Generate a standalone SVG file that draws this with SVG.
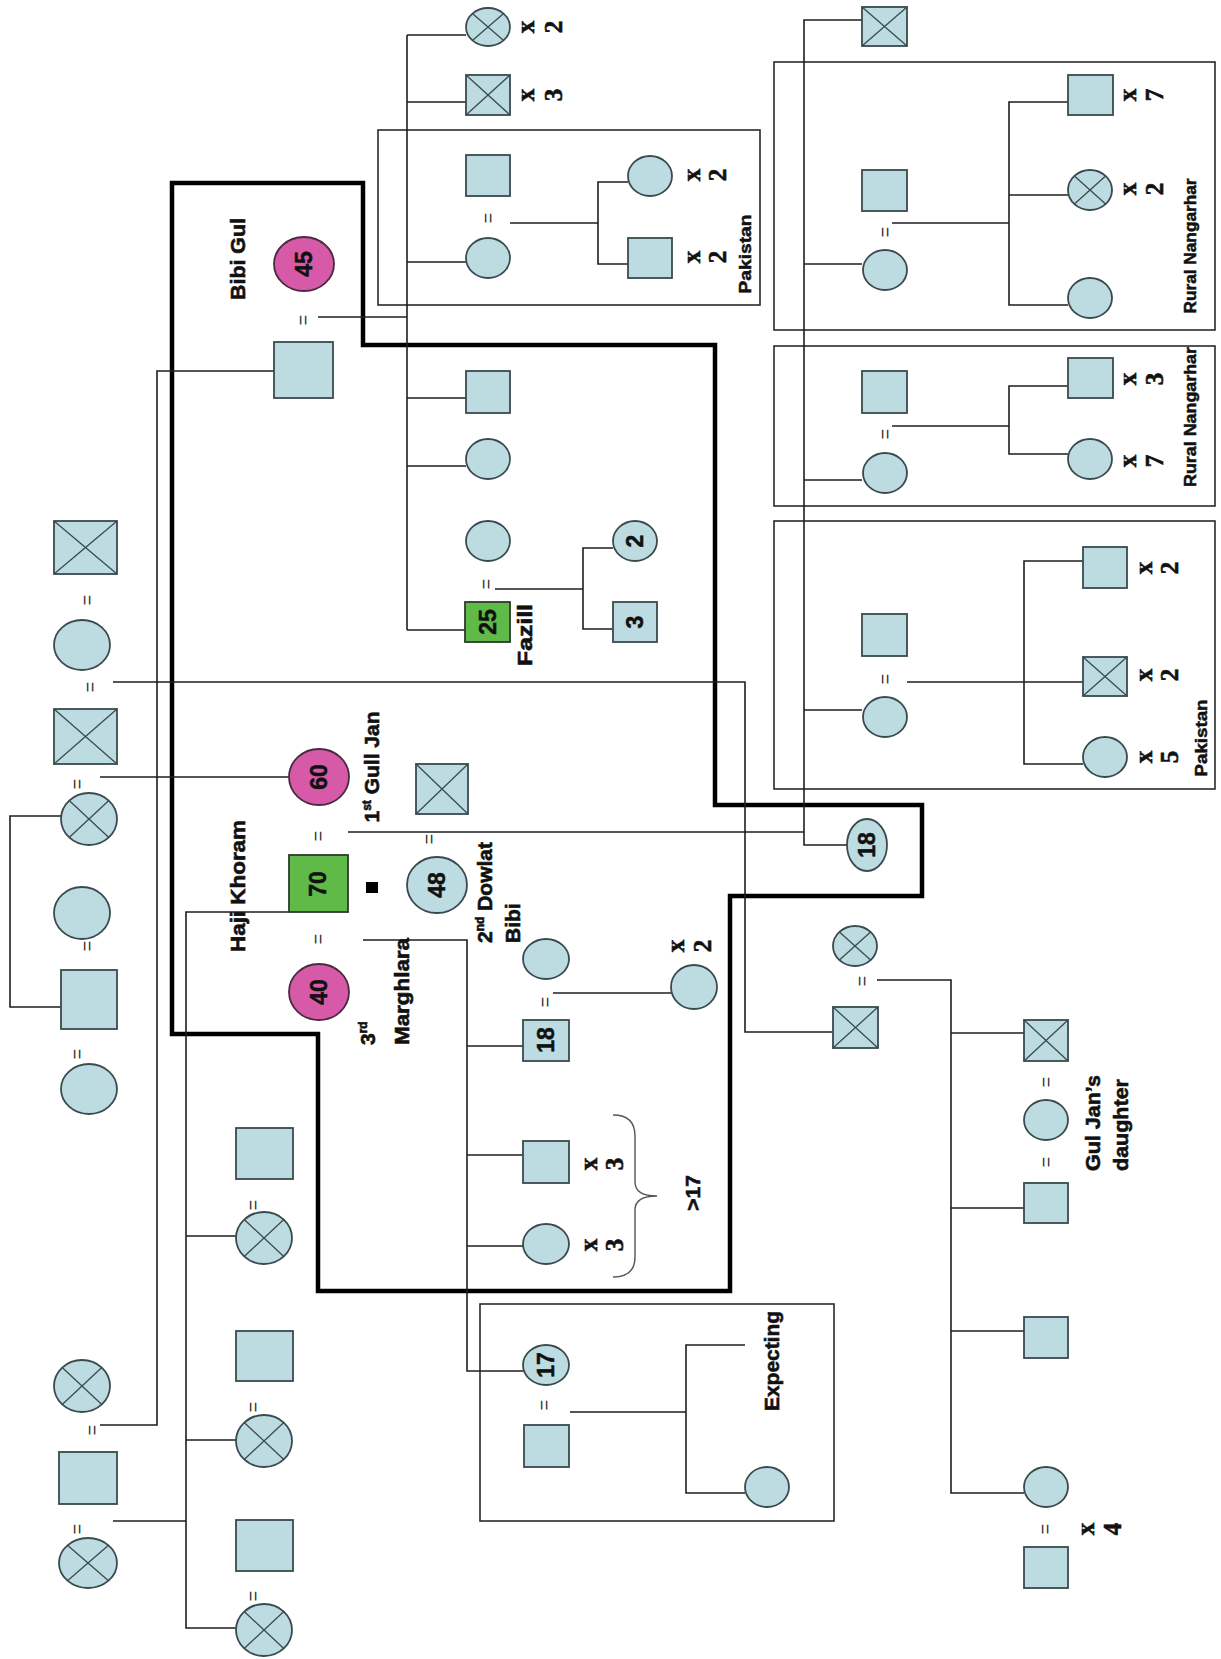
<svg xmlns="http://www.w3.org/2000/svg" width="1221" height="1659" viewBox="0 0 1221 1659">
<style>
.ln{stroke:#1e1e1e;stroke-width:1.6;fill:none}
.thick{stroke:#000;stroke-width:4.5;fill:none;stroke-linejoin:miter}
.box{stroke:#2a2a2a;stroke-width:1.6;fill:none}
.f{fill:#bddce2;stroke:#3a4a4e;stroke-width:1.8}
.m{fill:#d65aa8;stroke:#4a2a40;stroke-width:1.8}
.g{fill:#5fba47;stroke:#2e3a2e;stroke-width:1.8}
.x{stroke:#3a4a4e;stroke-width:1.3}
.brace{stroke:#555;stroke-width:1.4;fill:none}
text{font-family:"Liberation Sans",Arial,sans-serif;fill:#111}
.lbl{font-weight:bold;font-size:21px;stroke:#111;stroke-width:0.6}
.sm{font-weight:bold;font-size:17px;stroke:#111;stroke-width:0.5}
.num{font-weight:bold;font-size:23px;text-anchor:middle;stroke:#111;stroke-width:0.5}
.eq{font-size:18px;text-anchor:middle;fill:#333}
.xn{font-family:"Liberation Serif","Times New Roman",serif;font-weight:bold;font-size:25px;text-anchor:middle;stroke:#111;stroke-width:0.6}
.mid{text-anchor:middle}
</style>

<g id="connectors">
  <polygon class="thick" points="172,183 363,183 363,345 715,345 715,805 922,805 922,896 730,896 730,1291 318,1291 318,1034 172,1034"/>
  <rect class="box" x="378" y="130" width="382" height="175"/>
  <rect class="box" x="774" y="62" width="441" height="268"/>
  <rect class="box" x="774" y="346" width="441" height="160"/>
  <rect class="box" x="774" y="521" width="441" height="268"/>
  <rect class="box" x="480" y="1304" width="354" height="217"/>
  <polyline class="ln" points="318,317 407,317"/>
  <polyline class="ln" points="407,35 407,630"/>
  <polyline class="ln" points="407,35 466,35"/>
  <polyline class="ln" points="407,102 466,102"/>
  <polyline class="ln" points="407,262 466,262"/>
  <polyline class="ln" points="407,398 466,398"/>
  <polyline class="ln" points="407,466 466,466"/>
  <polyline class="ln" points="407,630 465,630"/>
  <polyline class="ln" points="274,371 157,371 157,1425 100,1425"/>
  <polyline class="ln" points="510,223 598,223"/>
  <polyline class="ln" points="628,182 598,182 598,264 628,264"/>
  <polyline class="ln" points="495,589 583,589"/>
  <polyline class="ln" points="613,548 583,548 583,629 613,629"/>
  <polyline class="ln" points="862,20 804,20 804,845 847,845"/>
  <polyline class="ln" points="804,264 862,264"/>
  <polyline class="ln" points="804,480 862,480"/>
  <polyline class="ln" points="804,710 862,710"/>
  <polyline class="ln" points="892,223 1009,223"/>
  <polyline class="ln" points="1068,102 1009,102 1009,305 1068,305"/>
  <polyline class="ln" points="1009,195 1068,195"/>
  <polyline class="ln" points="892,426 1009,426"/>
  <polyline class="ln" points="1068,386 1009,386 1009,454 1068,454"/>
  <polyline class="ln" points="907,682 1024,682"/>
  <polyline class="ln" points="1083,561 1024,561 1024,764 1083,764"/>
  <polyline class="ln" points="1024,682 1083,682"/>
  <polyline class="ln" points="113,682 745,682 745,1032 833,1032"/>
  <polyline class="ln" points="100,777 289,777"/>
  <polyline class="ln" points="61,816 10,816 10,1007 61,1007"/>
  <polyline class="ln" points="348,832 804,832"/>
  <polyline class="ln" points="289,912 186,912 186,1628 236,1628"/>
  <polyline class="ln" points="186,1236 236,1236"/>
  <polyline class="ln" points="186,1440 236,1440"/>
  <polyline class="ln" points="113,1521 186,1521"/>
  <polyline class="ln" points="363,940 467,940 467,1371 524,1371"/>
  <polyline class="ln" points="467,1046 523,1046"/>
  <polyline class="ln" points="467,1155 523,1155"/>
  <polyline class="ln" points="467,1246 523,1246"/>
  <polyline class="ln" points="553,993 671,993"/>
  <polyline class="ln" points="877,980 951,980 951,1493 1024,1493"/>
  <polyline class="ln" points="951,1033 1024,1033"/>
  <polyline class="ln" points="951,1208 1024,1208"/>
  <polyline class="ln" points="951,1331 1024,1331"/>
  <polyline class="ln" points="570,1412 686,1412"/>
  <polyline class="ln" points="745,1345 686,1345 686,1493 745,1493"/>
  <path class="brace" d="M613,1115 Q635,1115 635,1136 L635,1182 Q635,1196 657,1196 Q635,1196 635,1210 L635,1257 Q635,1277 613,1277"/>
</g>

<g id="marriage-signs">
  <text class="eq" transform="translate(303,320) rotate(-90)" dy="6">=</text>
  <text class="eq" transform="translate(488,218) rotate(-90)" dy="6">=</text>
  <text class="eq" transform="translate(486,584) rotate(-90)" dy="6">=</text>
  <text class="eq" transform="translate(885,232) rotate(-90)" dy="6">=</text>
  <text class="eq" transform="translate(885,434) rotate(-90)" dy="6">=</text>
  <text class="eq" transform="translate(885,679) rotate(-90)" dy="6">=</text>
  <text class="eq" transform="translate(87,600) rotate(-90)" dy="6">=</text>
  <text class="eq" transform="translate(90,687) rotate(-90)" dy="6">=</text>
  <text class="eq" transform="translate(77,784) rotate(-90)" dy="6">=</text>
  <text class="eq" transform="translate(87,946) rotate(-90)" dy="6">=</text>
  <text class="eq" transform="translate(77,1054) rotate(-90)" dy="6">=</text>
  <text class="eq" transform="translate(318,836) rotate(-90)" dy="6">=</text>
  <text class="eq" transform="translate(429,839) rotate(-90)" dy="6">=</text>
  <text class="eq" transform="translate(318,939) rotate(-90)" dy="6">=</text>
  <text class="eq" transform="translate(545,1002) rotate(-90)" dy="6">=</text>
  <text class="eq" transform="translate(253,1205) rotate(-90)" dy="6">=</text>
  <text class="eq" transform="translate(253,1407) rotate(-90)" dy="6">=</text>
  <text class="eq" transform="translate(253,1596) rotate(-90)" dy="6">=</text>
  <text class="eq" transform="translate(92,1430) rotate(-90)" dy="6">=</text>
  <text class="eq" transform="translate(77,1529) rotate(-90)" dy="6">=</text>
  <text class="eq" transform="translate(862,981) rotate(-90)" dy="6">=</text>
  <text class="eq" transform="translate(1046,1082) rotate(-90)" dy="6">=</text>
  <text class="eq" transform="translate(1046,1162) rotate(-90)" dy="6">=</text>
  <text class="eq" transform="translate(1045,1529) rotate(-90)" dy="6">=</text>
  <text class="eq" transform="translate(544,1405) rotate(-90)" dy="6">=</text>
</g>

<g id="bibi-gul">
  <ellipse class="m" cx="304" cy="264" rx="30" ry="27"/>
  <text class="num" transform="translate(304,264) rotate(-90)" dy="8">45</text>
  <text class="lbl mid" transform="translate(238,259) rotate(-90)" dy="7" textLength="82" lengthAdjust="spacingAndGlyphs">Bibi Gul</text>
</g>
<g id="bibi-gul-husband"><rect class="f" x="274" y="342" width="59" height="56"/></g>
<g id="bg-child-1">
  <ellipse class="f" cx="488" cy="27" rx="22" ry="19"/>
  <line class="x" x1="472.4" y1="13.6" x2="503.6" y2="40.4"/><line class="x" x1="472.4" y1="40.4" x2="503.6" y2="13.6"/>
  <text class="xn" transform="translate(527,27) rotate(-90)" dy="7">x</text>
  <text class="xn" transform="translate(554,27) rotate(-90)" dy="8">2</text>
</g>
<g id="bg-child-2">
  <rect class="f" x="466" y="75" width="44" height="40"/>
  <line class="x" x1="466" y1="75" x2="510" y2="115"/><line class="x" x1="466" y1="115" x2="510" y2="75"/>
  <text class="xn" transform="translate(527,95) rotate(-90)" dy="7">x</text>
  <text class="xn" transform="translate(554,95) rotate(-90)" dy="8">3</text>
</g>
<g id="pakistan-1">
  <rect class="f" x="466" y="155" width="44" height="41"/>
  <ellipse class="f" cx="488" cy="258" rx="22" ry="20"/>
  <ellipse class="f" cx="650" cy="176" rx="22" ry="20"/>
  <rect class="f" x="628" y="238" width="44" height="40"/>
  <text class="xn" transform="translate(693,175) rotate(-90)" dy="7">x</text>
  <text class="xn" transform="translate(718,175) rotate(-90)" dy="8">2</text>
  <text class="xn" transform="translate(693,257) rotate(-90)" dy="7">x</text>
  <text class="xn" transform="translate(718,257) rotate(-90)" dy="8">2</text>
  <text class="sm mid" transform="translate(745,254) rotate(-90)" dy="6" textLength="79" lengthAdjust="spacingAndGlyphs">Pakistan</text>
</g>
<g id="bg-child-4"><rect class="f" x="466" y="371" width="44" height="42"/></g>
<g id="bg-child-5"><ellipse class="f" cx="488" cy="459" rx="22" ry="20"/></g>
<g id="fazill-wife"><ellipse class="f" cx="488" cy="541" rx="22" ry="20"/></g>
<g id="fazill">
  <rect class="g" x="465" y="602" width="45" height="40"/>
  <text class="num" transform="translate(488,622) rotate(-90)" dy="8">25</text>
  <text class="lbl mid" transform="translate(525,635) rotate(-90)" dy="7" textLength="62" lengthAdjust="spacingAndGlyphs">Fazill</text>
</g>
<g id="fazill-child-2">
  <ellipse class="f" cx="635" cy="541" rx="22" ry="20"/>
  <text class="num" transform="translate(635,541) rotate(-90)" dy="8">2</text>
</g>
<g id="fazill-child-3">
  <rect class="f" x="613" y="602" width="44" height="40"/>
  <text class="num" transform="translate(635,622) rotate(-90)" dy="8">3</text>
</g>

<g id="r-top"><rect class="f" x="862" y="7" width="45" height="39"/>
  <line class="x" x1="862" y1="7" x2="907" y2="46"/><line class="x" x1="862" y1="46" x2="907" y2="7"/></g>
<g id="rural-1">
  <rect class="f" x="862" y="170" width="45" height="41"/>
  <ellipse class="f" cx="885" cy="270" rx="22" ry="20"/>
  <rect class="f" x="1068" y="75" width="45" height="40"/>
  <ellipse class="f" cx="1090" cy="190" rx="22" ry="20"/>
  <line class="x" x1="1074.4" y1="175.9" x2="1105.6" y2="204.1"/><line class="x" x1="1074.4" y1="204.1" x2="1105.6" y2="175.9"/>
  <ellipse class="f" cx="1090" cy="298" rx="22" ry="20"/>
  <text class="xn" transform="translate(1129,95) rotate(-90)" dy="7">x</text>
  <text class="xn" transform="translate(1155,95) rotate(-90)" dy="8">7</text>
  <text class="xn" transform="translate(1129,189) rotate(-90)" dy="7">x</text>
  <text class="xn" transform="translate(1155,189) rotate(-90)" dy="8">2</text>
  <text class="sm mid" transform="translate(1190,246) rotate(-90)" dy="6" textLength="135" lengthAdjust="spacingAndGlyphs">Rural Nangarhar</text>
</g>
<g id="rural-2">
  <rect class="f" x="862" y="371" width="45" height="42"/>
  <ellipse class="f" cx="885" cy="473" rx="22" ry="20"/>
  <rect class="f" x="1068" y="358" width="45" height="40"/>
  <ellipse class="f" cx="1090" cy="459" rx="22" ry="20"/>
  <text class="xn" transform="translate(1129,379) rotate(-90)" dy="7">x</text>
  <text class="xn" transform="translate(1155,379) rotate(-90)" dy="8">3</text>
  <text class="xn" transform="translate(1129,461) rotate(-90)" dy="7">x</text>
  <text class="xn" transform="translate(1155,461) rotate(-90)" dy="8">7</text>
  <text class="sm mid" transform="translate(1190,417) rotate(-90)" dy="6" textLength="140" lengthAdjust="spacingAndGlyphs">Rural Nangarhar</text>
</g>
<g id="pakistan-2">
  <rect class="f" x="862" y="614" width="45" height="42"/>
  <ellipse class="f" cx="885" cy="717" rx="22" ry="20"/>
  <rect class="f" x="1083" y="547" width="44" height="41"/>
  <rect class="f" x="1083" y="657" width="44" height="39"/>
  <line class="x" x1="1083" y1="657" x2="1127" y2="696"/><line class="x" x1="1083" y1="696" x2="1127" y2="657"/>
  <ellipse class="f" cx="1105" cy="757" rx="22" ry="20"/>
  <text class="xn" transform="translate(1145,568) rotate(-90)" dy="7">x</text>
  <text class="xn" transform="translate(1170,568) rotate(-90)" dy="8">2</text>
  <text class="xn" transform="translate(1145,675) rotate(-90)" dy="7">x</text>
  <text class="xn" transform="translate(1170,675) rotate(-90)" dy="8">2</text>
  <text class="xn" transform="translate(1145,757) rotate(-90)" dy="7">x</text>
  <text class="xn" transform="translate(1170,757) rotate(-90)" dy="8">5</text>
  <text class="sm mid" transform="translate(1201,738) rotate(-90)" dy="6" textLength="77" lengthAdjust="spacingAndGlyphs">Pakistan</text>
</g>
<g id="wife-18">
  <ellipse class="f" cx="867" cy="845" rx="20" ry="26"/>
  <text class="num" transform="translate(867,845) rotate(-90)" dy="8">18</text>
</g>

<g id="a1"><rect class="f" x="54" y="521" width="63" height="53"/>
  <line class="x" x1="54" y1="521" x2="117" y2="574"/><line class="x" x1="54" y1="574" x2="117" y2="521"/></g>
<g id="a2"><ellipse class="f" cx="82" cy="645" rx="28" ry="25"/></g>
<g id="a3"><rect class="f" x="54" y="709" width="63" height="55"/>
  <line class="x" x1="54" y1="709" x2="117" y2="764"/><line class="x" x1="54" y1="764" x2="117" y2="709"/></g>
<g id="a4"><ellipse class="f" cx="89" cy="819" rx="28" ry="26"/>
  <line class="x" x1="69.2" y1="800.6" x2="108.8" y2="837.4"/><line class="x" x1="69.2" y1="837.4" x2="108.8" y2="800.6"/></g>
<g id="a5"><ellipse class="f" cx="82" cy="913" rx="28" ry="26"/></g>
<g id="a6"><rect class="f" x="61" y="970" width="56" height="59"/></g>
<g id="a7"><ellipse class="f" cx="89" cy="1089" rx="28" ry="25"/></g>

<g id="gull-jan">
  <ellipse class="m" cx="319" cy="777" rx="30" ry="28"/>
  <text class="num" transform="translate(319,777) rotate(-90)" dy="8">60</text>
  <text class="lbl mid" transform="translate(372,767) rotate(-90)" dy="7">1<tspan font-size="12" dy="-8">st</tspan><tspan dy="8"> Gull Jan</tspan></text>
</g>
<g id="dowlat-husband"><rect class="f" x="416" y="764" width="52" height="50"/>
  <line class="x" x1="416" y1="764" x2="468" y2="814"/><line class="x" x1="416" y1="814" x2="468" y2="764"/></g>
<g id="haji-khoram">
  <rect class="g" x="289" y="855" width="59" height="57"/>
  <text class="num" transform="translate(318,884) rotate(-90)" dy="8">70</text>
  <text class="lbl mid" transform="translate(238,886) rotate(-90)" dy="7" textLength="132" lengthAdjust="spacingAndGlyphs">Haji Khoram</text>
  <rect x="366" y="882" width="12" height="11" fill="#000"/>
</g>
<g id="dowlat-bibi">
  <ellipse class="f" cx="437" cy="885" rx="30" ry="28"/>
  <text class="num" transform="translate(437,885) rotate(-90)" dy="8">48</text>
  <text class="lbl" transform="translate(485,943) rotate(-90)" dy="7">2<tspan font-size="12" dy="-8">nd</tspan><tspan dy="8"> Dowlat</tspan></text>
  <text class="lbl" transform="translate(513,943) rotate(-90)" dy="7">Bibi</text>
</g>
<g id="marghlara">
  <ellipse class="m" cx="319" cy="992" rx="30" ry="28"/>
  <text class="num" transform="translate(319,992) rotate(-90)" dy="8">40</text>
  <text class="lbl" transform="translate(368,1045) rotate(-90)" dy="7">3<tspan font-size="12" dy="-8">rd</tspan></text>
  <text class="lbl" transform="translate(402,1045) rotate(-90)" dy="7" textLength="107" lengthAdjust="spacingAndGlyphs">Marghlara</text>
</g>
<g id="son18-wife"><ellipse class="f" cx="546" cy="959" rx="23" ry="20"/></g>
<g id="son18-kids">
  <ellipse class="f" cx="694" cy="987" rx="23" ry="22"/>
  <text class="xn" transform="translate(677,946) rotate(-90)" dy="7">x</text>
  <text class="xn" transform="translate(703,946) rotate(-90)" dy="8">2</text>
</g>
<g id="son18">
  <rect class="f" x="523" y="1020" width="46" height="41"/>
  <text class="num" transform="translate(546,1040) rotate(-90)" dy="8">18</text>
</g>
<g id="sons-x3">
  <rect class="f" x="523" y="1141" width="46" height="42"/>
  <text class="xn" transform="translate(590,1164) rotate(-90)" dy="7">x</text>
  <text class="xn" transform="translate(615,1164) rotate(-90)" dy="8">3</text>
</g>
<g id="daughters-x3">
  <ellipse class="f" cx="546" cy="1244" rx="23" ry="20"/>
  <text class="xn" transform="translate(590,1245) rotate(-90)" dy="7">x</text>
  <text class="xn" transform="translate(615,1245) rotate(-90)" dy="8">3</text>
  <text class="lbl mid" transform="translate(693,1193) rotate(-90)" dy="7" font-size="18">&gt;17</text>
</g>

<g id="k1"><rect class="f" x="236" y="1128" width="57" height="51"/>
  <ellipse class="f" cx="264" cy="1238" rx="28" ry="26"/>
  <line class="x" x1="244.2" y1="1219.6" x2="283.8" y2="1256.4"/><line class="x" x1="244.2" y1="1256.4" x2="283.8" y2="1219.6"/></g>
<g id="k2"><rect class="f" x="236" y="1331" width="57" height="50"/>
  <ellipse class="f" cx="264" cy="1441" rx="28" ry="26"/>
  <line class="x" x1="244.2" y1="1422.6" x2="283.8" y2="1459.4"/><line class="x" x1="244.2" y1="1459.4" x2="283.8" y2="1422.6"/></g>
<g id="k3"><rect class="f" x="236" y="1520" width="57" height="51"/>
  <ellipse class="f" cx="264" cy="1630" rx="28" ry="26"/>
  <line class="x" x1="244.2" y1="1611.6" x2="283.8" y2="1648.4"/><line class="x" x1="244.2" y1="1648.4" x2="283.8" y2="1611.6"/></g>
<g id="b1"><ellipse class="f" cx="82" cy="1386" rx="28" ry="26"/>
  <line class="x" x1="62.2" y1="1367.6" x2="101.8" y2="1404.4"/><line class="x" x1="62.2" y1="1404.4" x2="101.8" y2="1367.6"/></g>
<g id="b2"><rect class="f" x="59" y="1452" width="58" height="52"/></g>
<g id="b3"><ellipse class="f" cx="88" cy="1563" rx="29" ry="25"/>
  <line class="x" x1="67.5" y1="1545.3" x2="108.5" y2="1580.7"/><line class="x" x1="67.5" y1="1580.7" x2="108.5" y2="1545.3"/></g>

<g id="daughter-17">
  <ellipse class="f" cx="546" cy="1365" rx="23" ry="20"/>
  <text class="num" transform="translate(546,1365) rotate(-90)" dy="8">17</text>
</g>
<g id="daughter-17-husband"><rect class="f" x="524" y="1425" width="45" height="42"/></g>
<g id="expecting">
  <ellipse class="f" cx="767" cy="1487" rx="22" ry="20"/>
  <text class="lbl mid" transform="translate(772,1361) rotate(-90)" dy="7" textLength="100" lengthAdjust="spacingAndGlyphs">Expecting</text>
</g>

<g id="e1"><ellipse class="f" cx="855" cy="946" rx="22" ry="20"/>
  <line class="x" x1="839.4" y1="931.9" x2="870.6" y2="960.1"/><line class="x" x1="839.4" y1="960.1" x2="870.6" y2="931.9"/></g>
<g id="e2"><rect class="f" x="833" y="1007" width="45" height="41"/>
  <line class="x" x1="833" y1="1007" x2="878" y2="1048"/><line class="x" x1="833" y1="1048" x2="878" y2="1007"/></g>
<g id="e3"><rect class="f" x="1024" y="1020" width="44" height="41"/>
  <line class="x" x1="1024" y1="1020" x2="1068" y2="1061"/><line class="x" x1="1024" y1="1061" x2="1068" y2="1020"/></g>
<g id="gul-jans-daughter">
  <ellipse class="f" cx="1046" cy="1120" rx="22" ry="20"/>
  <text class="lbl" transform="translate(1093,1171) rotate(-90)" dy="7" textLength="96" lengthAdjust="spacingAndGlyphs">Gul Jan’s</text>
  <text class="lbl" transform="translate(1121,1171) rotate(-90)" dy="7" textLength="92" lengthAdjust="spacingAndGlyphs">daughter</text>
</g>
<g id="e5"><rect class="f" x="1024" y="1183" width="44" height="40"/></g>
<g id="e6"><rect class="f" x="1024" y="1317" width="44" height="41"/></g>
<g id="e7"><ellipse class="f" cx="1046" cy="1487" rx="22" ry="20"/>
  <text class="xn" transform="translate(1087,1529) rotate(-90)" dy="7">x</text>
  <text class="xn" transform="translate(1113,1529) rotate(-90)" dy="8">4</text></g>
<g id="e8"><rect class="f" x="1024" y="1547" width="44" height="41"/></g>
</svg>
